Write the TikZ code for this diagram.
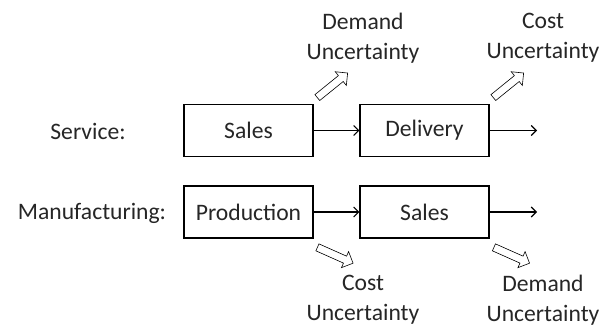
\documentclass[tikz,border=0pt]{standalone}
\usepackage{fontspec}
\setmainfont{Carlito}
\usetikzlibrary{shapes.arrows,arrows.meta}
\definecolor{ink}{HTML}{262626}
\begin{document}
\begin{tikzpicture}[x=1bp,y=-1bp,
  stage/.style={draw,line width=1.1bp,minimum width=129bp,minimum height=52bp,inner sep=0pt,text=ink,font=\fontsize{23.7}{26}\selectfont},
  label/.style={font=\fontsize{23.7}{26}\selectfont,inner sep=0pt,text=ink},
  risk/.style={font=\fontsize{23.7}{30}\selectfont,align=center,inner sep=0pt,text=ink},
  flow/.style={-{Straight Barb[length=5bp,width=10bp]},line width=1.1bp},
  hollow/.style={single arrow,draw,line width=0.6bp,minimum height=39bp,minimum width=17bp,
    single arrow head extend=5bp,single arrow head indent=0pt,inner sep=3.5bp}]
\useasboundingbox (0,0) rectangle (612,327);
% service chain
\node[label] (srv) at (88,131) {Service:};
\node[stage] (s1) at (248.5,130.5) {Sales};
\node[stage] (s2) at (424.5,130.5) {Delivery};
\coordinate (s3) at (537,130.5);
\draw[flow] (s1) -- (s2);
\draw[flow] (s2) -- (s3);
\node[hollow,rotate=39] (sa1) at (331,86.5) {};
\node[hollow,rotate=39] (sa2) at (507,86.5) {};
\node[risk] (sr1) at (363,38) {Demand\\Uncertainty};
\node[risk] (sr2) at (543,38) {Cost\\Uncertainty};
% manufacturing chain
\node[label] (mfg) at (92,213) {Manufacturing:};
\node[stage] (m1) at (248.5,212) {Production};
\node[stage] (m2) at (424.5,212) {Sales};
\coordinate (m3) at (537,212);
\draw[flow] (m1) -- (m2);
\draw[flow] (m2) -- (m3);
\node[hollow,rotate=-24] (ma1) at (333.5,254.5) {};
\node[hollow,rotate=-24] (ma2) at (510,254.5) {};
\node[risk] (mr1) at (363,300) {Cost\\Uncertainty};
\node[risk] (mr2) at (543,300) {Demand\\Uncertainty};
\end{tikzpicture}
\end{document}
